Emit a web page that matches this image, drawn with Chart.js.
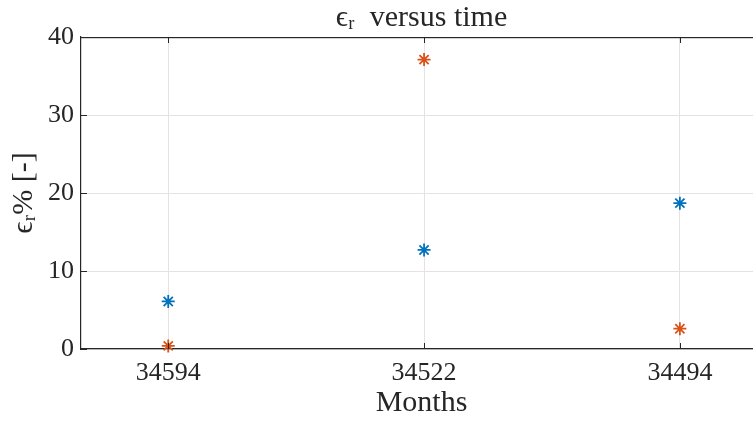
<!DOCTYPE html>
<html>
<head>
<meta charset="utf-8">
<script src="https://cdn.jsdelivr.net/npm/chart.js@4"></script>
<style>
  html, body { margin: 0; padding: 0; background: #fff; overflow: hidden; }
  #wrap { width: 753px; height: 421px; overflow: hidden; }
</style>
</head>
<body>
<!-- canvas runs a little past the window: the figure's box is cut off on the right -->
<div id="wrap"><canvas id="chart" width="762" height="421"></canvas></div>
<script>
// data
var months = ['34594', '34522', '34494'];
var seriesBlue = [6.1, 12.7, 18.7];
var seriesOrange = [0.4, 37.1, 2.6];
var yTicks = [0, 10, 20, 30, 40];

var ink = '#262626';
var serif = '"Liberation Serif", "DejaVu Serif", serif';

function toPoints(vals) {
    return vals.map(function (v, i) { return { x: i + 1, y: v }; });
}

// matlab style tick marks inside the box, plus the top edge
var innerTicks = {
    id: 'innerTicks',
    afterDraw: function (chart) {
        var ctx = chart.ctx, a = chart.chartArea;
        var x = chart.scales.x, y = chart.scales.y;
        ctx.save();
        ctx.fillStyle = ink;
        x.ticks.forEach(function (t) {
            var px = Math.round(x.getPixelForValue(t.value));
            ctx.fillRect(px, a.bottom - 6, 1, 6);
            ctx.fillRect(px, a.top, 1, 6);
        });
        y.ticks.forEach(function (t) {
            var py = Math.round(y.getPixelForValue(t.value));
            ctx.fillRect(a.left, py, 6, 1);
        });
        ctx.fillRect(a.left, Math.round(a.top), a.right - a.left, 1.2);
        ctx.restore();
    }
};

new Chart(document.getElementById('chart'), {
    type: 'scatter',
    data: {
        datasets: [
            {
                label: 'blue',
                data: toPoints(seriesBlue),
                borderColor: '#0072BD',
                backgroundColor: '#0072BD',
                pointStyle: 'star',
                pointRadius: 6.5,
                borderWidth: 1.8,
                clip: false
            },
            {
                label: 'orange',
                data: toPoints(seriesOrange),
                borderColor: '#D95319',
                backgroundColor: '#D95319',
                pointStyle: 'star',
                pointRadius: 6.5,
                borderWidth: 1.8,
                clip: false
            }
        ]
    },
    options: {
        responsive: false,
        animation: false,
        layout: { autoPadding: false, padding: 0 },
        plugins: {
            legend: { display: false },
            tooltip: { enabled: false },
            title: {
                display: true,
                fullSize: false,
                text: 'ϵᵣ  versus time',
                color: ink,
                font: { family: serif, size: 30, weight: 'normal' },
                padding: { top: 0, bottom: 1 }
            }
        },
        scales: {
            x: {
                type: 'linear',
                min: 0.659,
                max: 3.321,
                afterBuildTicks: function (s) {
                    s.ticks = months.map(function (m, i) { return { value: i + 1 }; });
                },
                ticks: {
                    color: ink,
                    font: { family: serif, size: 26 },
                    padding: 9,
                    callback: function (v) { return months[v - 1]; }
                },
                grid: { color: '#e3e3e3', drawTicks: false },
                border: { color: ink, width: 1.2 },
                title: {
                    display: true,
                    text: 'Months',
                    color: ink,
                    font: { family: serif, size: 30 },
                    padding: { top: -9, bottom: 0 }
                },
                afterFit: function (s) { s.height = 72; }
            },
            y: {
                min: 0,
                max: 40,
                afterBuildTicks: function (s) {
                    s.ticks = yTicks.map(function (v) { return { value: v }; });
                },
                ticks: {
                    color: ink,
                    font: { family: serif, size: 26 },
                    padding: 7
                },
                grid: { color: '#e3e3e3', drawTicks: false },
                border: { color: ink, width: 1.2 },
                title: {
                    display: true,
                    text: 'ϵᵣ% [-]',
                    color: ink,
                    font: { family: serif, size: 30 },
                    padding: { top: 6, bottom: 0 }
                },
                afterFit: function (s) { s.width = 81; }
            }
        }
    },
    plugins: [innerTicks]
});
</script>
</body>
</html>
